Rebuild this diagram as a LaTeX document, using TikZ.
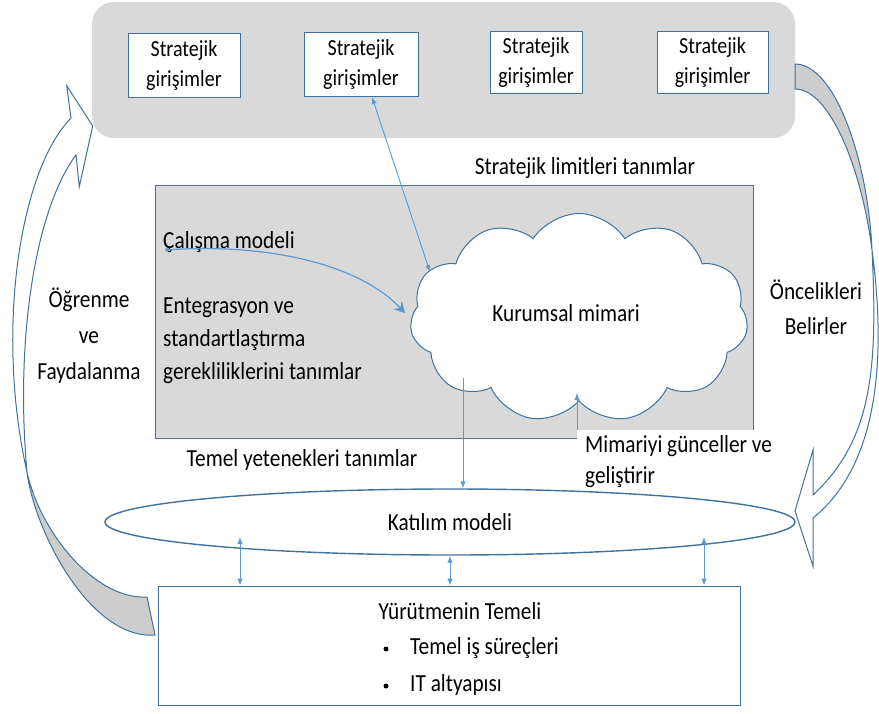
\documentclass[tikz,border=0pt]{standalone}
\usepackage{fontspec}
\setmainfont{Carlito}[FakeStretch=0.87]
\usetikzlibrary{shapes.geometric,shapes.symbols,arrows.meta}

\definecolor{edge}{HTML}{41719C}
\definecolor{link}{HTML}{5B9BD5}
\definecolor{panel}{HTML}{D9D9D9}
\definecolor{fold}{HTML}{CDCDCD}

\tikzset{
  lbl/.style={font=\fontsize{24.5}{33}\selectfont, inner sep=0pt, text=black},
  initbox/.style={draw=edge, line width=1pt, fill=white, inner sep=0pt,
    align=center, font=\fontsize{23}{30}\selectfont},
  bulletdot/.style={circle, fill=black, inner sep=0pt, minimum size=5pt},
  link/.style={draw=link, line width=0.9pt, -{Latex[length=7pt,width=5.5pt]}},
  bothlink/.style={draw=link, line width=0.9pt,
    {Latex[length=7pt,width=5.5pt]}-{Latex[length=7pt,width=5.5pt]}},
  band/.style={draw=edge, line width=1pt, line join=miter},
}

\begin{document}
\begin{tikzpicture}[x=1pt,y=-1pt]
\useasboundingbox (0,0) rectangle (879,713);

% strip of strategic initiatives
\node[fill=panel, rounded corners=22pt, minimum width=703pt, minimum height=136pt,
      inner sep=0pt] (strip) at (443.5,70) {};
\node[initbox, minimum width=112pt, minimum height=64pt] (init1) at (184,65) {Stratejik\\girişimler};
\node[initbox, minimum width=114pt, minimum height=64pt] (init2) at (361,64) {Stratejik\\girişimler};
\node[initbox, minimum width=92pt,  minimum height=62pt] (init3) at (536,62) {Stratejik\\girişimler};
\node[initbox, minimum width=111pt, minimum height=62pt] (init4) at (712.5,62) {Stratejik\\girişimler};

% left curved block arrow (learning loop)
\fill[white] (71,118) .. controls (20,170) and (-5,330) .. (27,472)
   .. controls (40,532) and (95,600) .. (147,597) -- (155,635)
   .. controls (90,640) and (34,530) .. (27,472)
   .. controls (15,340) and (35,210) .. (76,155)
   -- (79.3,186.7) -- (92.7,126) -- (66.7,85.7) -- cycle;
\fill[fold] (27,472) .. controls (40,532) and (95,600) .. (147,597) -- (155,635)
   .. controls (90,640) and (34,530) .. (27,472) -- cycle;
\draw[band] (71,118) .. controls (20,170) and (-5,330) .. (27,472)
   .. controls (40,532) and (95,600) .. (147,597) -- (155,635)
   .. controls (90,640) and (34,530) .. (27,472)
   .. controls (15,340) and (35,210) .. (76,155)
   -- (79.3,186.7) -- (92.7,126) -- (66.7,85.7) -- cycle;

% right curved block arrow (priorities)
\fill[white] (795,64) .. controls (835,64) and (868,160) .. (872,250)
   .. controls (878,370) and (872,440) .. (813,495)
   -- (813,450) -- (795,511) -- (813,566) -- (813,518)
   .. controls (885,460) and (884,340) .. (872,250)
   .. controls (862,170) and (830,89) .. (795,89) -- cycle;
\fill[fold] (795,64) .. controls (835,64) and (868,160) .. (872,250)
   .. controls (862,170) and (830,89) .. (795,89) -- cycle;
\draw[band] (795,64) .. controls (835,64) and (868,160) .. (872,250)
   .. controls (878,370) and (872,440) .. (813,495)
   -- (813,450) -- (795,511) -- (813,566) -- (813,518)
   .. controls (885,460) and (884,340) .. (872,250)
   .. controls (862,170) and (830,89) .. (795,89) -- cycle;

% side labels
\node[lbl, align=center, font=\fontsize{24.5}{36}\selectfont] (learn) at (89,336) {Öğrenme\\ve\\Faydalanma};
\node[lbl, align=center, font=\fontsize{24.5}{35}\selectfont] (prio) at (816,307) {Öncelikleri\\Belirler};

% enterprise architecture panel
\node[lbl] (limits) at (585,168) {Stratejik limitleri tanımlar};
\node[draw=edge, line width=0.8pt, fill=panel, minimum width=598pt, minimum height=253pt,
      inner sep=0pt] (core) at (454,311.5) {};
\node[cloud, cloud puffs=11, cloud puff arc=115, cloud ignores aspect, draw=edge,
      line width=1pt, fill=white, minimum width=338pt, minimum height=209pt,
      inner sep=0pt] (arch) at (579,318) {};
\node[lbl] (archText) at (566,313) {Kurumsal mimari};
\node[lbl, anchor=west] (work) at (163,242) {Çalışma modeli};
\node[lbl, anchor=north west, align=left] (integ) at (163,298) {Entegrasyon ve\\standartlaştırma\\gerekliliklerini tanımlar};
\node[lbl] (capab) at (302,460) {Temel yetenekleri tanımlar};
\node[lbl, fill=white, anchor=north west, align=left, inner xsep=8pt, inner ysep=5pt,
      font=\fontsize{24.5}{31}\selectfont] (upd) at (577,430) {Mimariyi günceller ve\\geliştirir};

% engagement model and foundation
\node[ellipse, draw=edge, line width=1.4pt, minimum width=690pt, minimum height=66pt,
      inner sep=0pt, lbl] (engage) at (450,522) {Katılım modeli};
\node[draw=edge, line width=1pt, minimum width=582pt, minimum height=119pt,
      inner sep=0pt] (base) at (449,645.5) {};
\node[lbl] (baseTitle) at (460,611) {Yürütmenin Temeli};
\node[bulletdot] (dot1) at (386,649) {};
\node[lbl, anchor=west] (proc) at (410,648) {Temel iş süreçleri};
\node[bulletdot] (dot2) at (386,686) {};
\node[lbl, anchor=west] (infra) at (410,685) {IT altyapısı};

% connector end points
\coordinate (initFoot) at (372,97);
\coordinate (archTop) at (430,272);
\coordinate (workStart) at (165,250);
\coordinate (workEnd) at (405,313);
\coordinate (archFoot) at (463,378);
\coordinate (updTip) at (577,393);
\coordinate (engL) at (240,537);
\coordinate (engR) at (704,537);

% connectors
\draw[bothlink] (initFoot) -- (archTop);
\draw[draw=link, line width=1.2pt, {Circle[length=4pt]}-{Stealth[length=11pt,width=12pt,inset=4pt]}]
  (workStart) .. controls (270,243) and (360,265) .. (workEnd);
\draw[link] (archFoot) -- (archFoot |- engage.north);
\draw[link] (upd.north west) -- (updTip);
\draw[bothlink] (engL) -- (engL |- base.north);
\draw[bothlink] (engage.south) -- (engage.south |- base.north);
\draw[bothlink] (engR) -- (engR |- base.north);
\end{tikzpicture}
\end{document}
